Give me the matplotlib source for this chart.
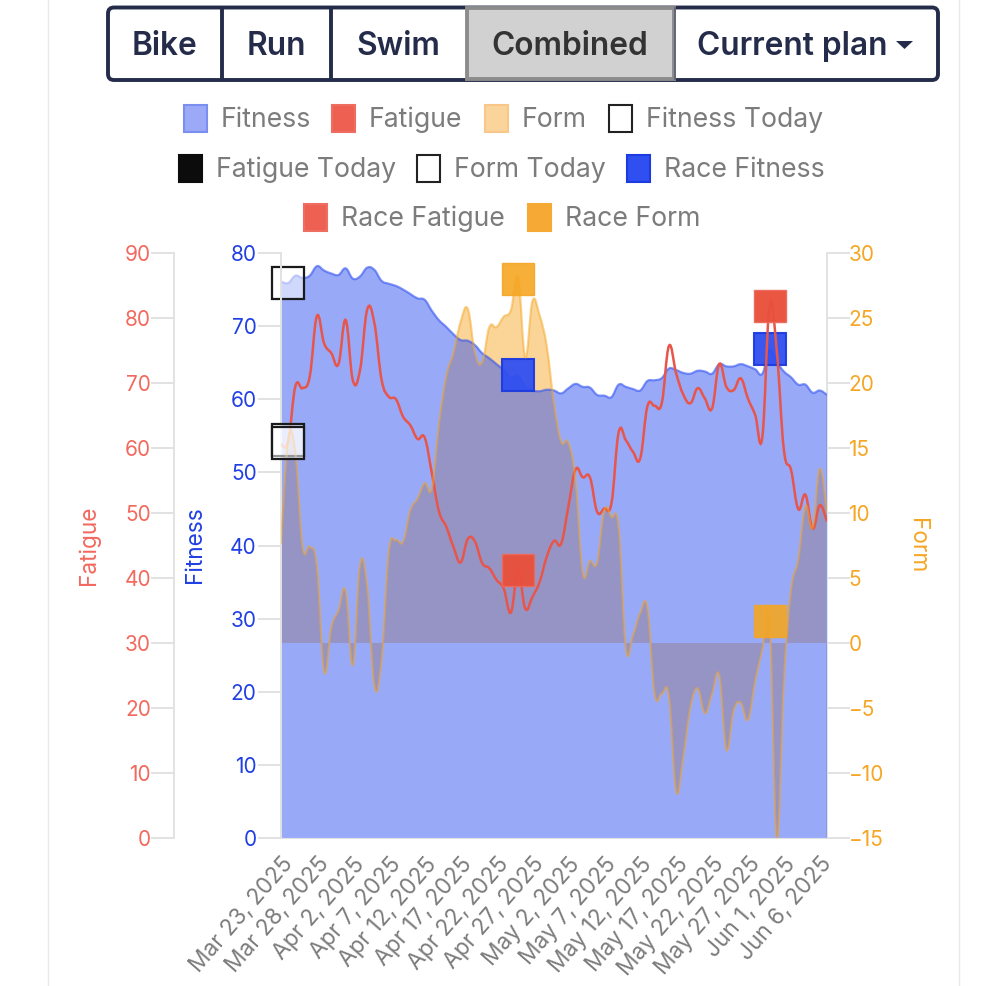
import matplotlib
matplotlib.use("Agg")
import matplotlib.pyplot as plt
from matplotlib.lines import Line2D
from matplotlib.patches import FancyBboxPatch, PathPatch, Rectangle
from matplotlib.path import Path

plt.rcParams["font.family"] = ["Inter", "DejaVu Sans"]

W, H = 1007, 986

date_labels = ["Mar 23, 2025", "Mar 28, 2025", "Apr 2, 2025", "Apr 7, 2025", "Apr 12, 2025",
               "Apr 17, 2025", "Apr 22, 2025", "Apr 27, 2025", "May 2, 2025", "May 7, 2025",
               "May 12, 2025", "May 17, 2025", "May 22, 2025", "May 27, 2025", "Jun 1, 2025",
               "Jun 6, 2025"]

fitness = [76.1, 75.9, 76.9, 76.6, 76.9, 78.2, 77.6, 77.2, 77.0, 77.9, 76.5, 76.8, 78.0, 77.7,
           76.2, 75.8, 75.5, 75.0, 74.4, 73.8, 73.6, 72.1, 70.8, 69.9, 68.9, 68.1, 68.0, 67.4,
           66.3, 65.6, 64.8, 64.0, 62.9, 63.2, 61.7, 61.2, 61.1, 61.3, 61.2, 60.8, 61.5, 62.1,
           61.7, 61.6, 60.6, 60.5, 60.3, 62.0, 61.7, 61.4, 61.2, 62.5, 62.6, 62.9, 64.2, 64.0,
           63.6, 63.5, 63.9, 63.8, 63.5, 64.8, 64.5, 64.5, 64.8, 64.5, 64.1, 63.5, 66.7, 65.1,
           63.8, 63.0, 62.0, 62.0, 60.9, 61.2, 60.6]
fatigue = [60.5, 61.0, 69.5, 69.2, 71.0, 80.3, 76.1, 74.6, 72.9, 79.7, 70.4, 72.0, 81.3, 79.2,
           70.5, 67.9, 67.5, 64.8, 63.5, 61.4, 61.6, 56.1, 50.2, 47.9, 44.8, 42.4, 46.0, 45.6,
           42.3, 41.5, 39.7, 38.4, 34.7, 41.2, 35.3, 37.1, 39.4, 43.3, 45.7, 45.3, 51.0, 56.7,
           55.5, 55.5, 50.2, 50.7, 51.5, 62.4, 61.2, 59.4, 58.4, 66.4, 66.5, 66.9, 75.7, 71.5,
           68.2, 66.9, 69.2, 67.6, 66.1, 72.9, 69.4, 68.9, 70.7, 67.6, 65.1, 61.7, 81.8, 75.1,
           59.7, 56.6, 50.6, 52.8, 47.6, 51.2, 48.7]
form = [7.6, 15.6, 14.6, 7.4, 7.4, 5.9, -2.2, 1.2, 2.5, 4.0, -1.7, 6.0, 4.3, -3.3,
        -1.3, 7.0, 7.9, 7.8, 10.2, 11.1, 12.3, 11.9, 16.9, 20.5, 22.3, 24.7, 25.7, 22.3,
        21.6, 24.3, 24.3, 25.1, 25.6, 28.1, 22.0, 26.3, 25.2, 22.8, 18.4, 15.5, 15.4, 12.5,
        5.4, 6.3, 6.2, 10.2, 9.7, 8.9, -0.4, 0.6, 2.3, 2.7, -3.9, -3.9, -4.1, -11.4,
        -8.7, -4.9, -3.5, -5.4, -3.9, -2.5, -8.2, -5.2, -4.6, -5.9, -2.9, -0.5, 1.9, -15.0,
        -2.9, 4.1, 6.4, 10.5, 8.9, 13.4, 10.0]

today_day = 1
today_fitness, today_fatigue, today_form = 75.9, 61.2, 15.4
race_day = [33, 68]
race_fitness = [63.3, 66.9]
race_fatigue = [41.2, 81.8]
race_form = [28.0, 1.7]

legend_rows = [
    [("Fitness", "fitness"), ("Fatigue", "fatigue"), ("Form", "form"), ("Fitness Today", "today")],
    [("Fatigue Today", "black"), ("Form Today", "today"), ("Race Fitness", "race_fit")],
    [("Race Fatigue", "race_fat"), ("Race Form", "race_form")],
]
buttons = ["Bike", "Run", "Swim", "Combined", "Current plan"]

BLUE = "#2f4ff0"
RED = "#e9503c"
ORANGE = "#f5a623"
GREY_AXIS = "#e2e2e2"
GREY_TEXT = "#7c7c7c"
NAVY = "#252c4a"


def smooth_path(xs, ys, close_to=None, t=0.2):
    # bezier through the points, same idea as chart.js line tension
    verts = [(xs[0], ys[0])]
    codes = [Path.MOVETO]
    n = len(xs)
    for i in range(n - 1):
        x0, y0 = xs[max(i - 1, 0)], ys[max(i - 1, 0)]
        x1, y1 = xs[i], ys[i]
        x2, y2 = xs[i + 1], ys[i + 1]
        x3, y3 = xs[min(i + 2, n - 1)], ys[min(i + 2, n - 1)]
        verts += [(x1 + (x2 - x0) * t, y1 + (y2 - y0) * t),
                  (x2 - (x3 - x1) * t, y2 - (y3 - y1) * t),
                  (x2, y2)]
        codes += [Path.CURVE4] * 3
    if close_to is not None:
        verts += [(xs[-1], close_to), (xs[0], close_to), (xs[0], ys[0])]
        codes += [Path.LINETO, Path.LINETO, Path.CLOSEPOLY]
    return Path(verts, codes)


fig = plt.figure(figsize=(W / 100, H / 100), dpi=100, facecolor="white")
box = [281 / W, 1 - 838 / H, (827 - 281) / W, (838 - 253) / H]

ax = fig.add_axes(box)
ax_form = ax.twinx()
ax_fatigue = ax.twinx()
ax_top = ax.twinx()

days = list(range(len(fitness)))
for a in (ax, ax_form, ax_fatigue, ax_top):
    a.set_xlim(days[0], days[-1])
    a.patch.set_visible(False)
    for s in a.spines.values():
        s.set_visible(False)
ax.set_ylim(0, 80)
ax_fatigue.set_ylim(0, 90)
ax_form.set_ylim(-15, 30)
ax_top.set_ylim(-15, 30)
ax_top.axis("off")

ax_form.set_zorder(1)
ax.set_zorder(2)
ax_fatigue.set_zorder(3)
ax_top.set_zorder(4)

# form fill sits under the fitness fill, that's where the muddy purple comes from
ax_form.add_patch(PathPatch(smooth_path(days, form, close_to=0), fc=ORANGE, ec="none", alpha=0.47))
ax.add_patch(PathPatch(smooth_path(days, fitness, close_to=0), fc="#3354f2", ec="none", alpha=0.5))
ax.add_patch(PathPatch(smooth_path(days, fitness), fc="none", ec="#3354f2", lw=1.6, alpha=0.6))
ax_top.add_patch(PathPatch(smooth_path(days, form), fc="none", ec=ORANGE, lw=1.6, alpha=0.5))
ax_fatigue.add_patch(PathPatch(smooth_path(days, fatigue), fc="none", ec="#e8554a", lw=1.8))

msize = 23.5
ax.plot(race_day, race_fitness, ls="none", marker="s", ms=msize, mfc=BLUE, mec="#1c3be0", mew=1.5,
        alpha=0.95, clip_on=False)
ax_fatigue.plot(race_day, race_fatigue, ls="none", marker="s", ms=msize, mfc=RED, mec="#ee6a5c", mew=1,
                alpha=0.97, clip_on=False)
ax_top.plot(race_day, race_form, ls="none", marker="s", ms=msize, mfc=ORANGE, mec="#f5a623", mew=1,
            alpha=0.9, clip_on=False)
for a, v in ((ax, today_fitness), (ax_fatigue, today_fatigue), (ax_top, today_form)):
    a.plot([today_day], [v], ls="none", marker="s", ms=msize, mfc=(1, 1, 1, 0.55), mec="#1a1a1a",
           mew=1.6, clip_on=False)

# axes
ax.set_yticks(range(0, 81, 10))
ax_fatigue.set_yticks(range(0, 91, 10))
ax_form.set_yticks(range(-15, 31, 5))
ax_form.set_yticklabels([str(v).replace("-", "\u2212") for v in range(-15, 31, 5)])
tlen = 16.5
ax.tick_params(axis="y", length=tlen, width=1.4, color=GREY_AXIS, labelcolor="#2140e4", labelsize=15, pad=1)
ax_fatigue.yaxis.tick_left()
ax_fatigue.tick_params(axis="y", length=tlen, width=1.4, color=GREY_AXIS, labelcolor="#f2695e", labelsize=15, pad=0)
ax_form.tick_params(axis="y", length=tlen, width=1.4, color=GREY_AXIS, labelcolor=ORANGE, labelsize=15, pad=-1)
ax_form.yaxis.tick_right()

ax.spines["left"].set_visible(True)
ax.spines["left"].set_color(GREY_AXIS)
ax.spines["left"].set_linewidth(1.4)
ax.spines["bottom"].set_visible(True)
ax.spines["bottom"].set_color(GREY_AXIS)
ax_fatigue.spines["left"].set_visible(True)
ax_fatigue.spines["left"].set_position(("outward", 77))
ax_fatigue.spines["left"].set_color(GREY_AXIS)
ax_fatigue.spines["left"].set_linewidth(1.4)
ax_form.spines["right"].set_visible(True)
ax_form.spines["right"].set_color(GREY_AXIS)
ax_form.spines["right"].set_linewidth(1.4)
ax.yaxis.get_major_ticks()[0].tick1line.set_color("#b5b5b5")
ax_fatigue.yaxis.get_major_ticks()[0].tick1line.set_color("#b5b5b5")
ax_form.yaxis.get_major_ticks()[3].tick2line.set_color("#b5b5b5")

ax.set_xticks(days[::5][:len(date_labels)])
ax.set_xticklabels(date_labels, rotation=49, ha="right", rotation_mode="anchor",
                   color=GREY_TEXT, fontsize=16.3)
ax.tick_params(axis="x", length=0, pad=11)
for a in (ax_form, ax_fatigue, ax_top):
    a.tick_params(axis="x", bottom=False, labelbottom=False)

# everything else is page furniture, drawn in pixel coords
ui = fig.add_axes([0, 0, 1, 1], zorder=10)
ui.set_xlim(0, W)
ui.set_ylim(H, 0)
ui.axis("off")
ui.patch.set_visible(False)

ui.add_line(Line2D([48, 48], [0, H], color="#e8e8e8", lw=1))
ui.add_line(Line2D([958.5, 958.5], [0, H], color="#e8e8e8", lw=1))

ui.text(89, 545, "Fatigue", color="#f2695e", fontsize=16.3, rotation=90, ha="center", va="center")
ui.text(195, 545, "Fitness", color="#2140e4", fontsize=16.3, rotation=90, ha="center", va="center")
ui.text(917, 546, "Form", color=ORANGE, fontsize=16.3, rotation=270, ha="center", va="center")

# button group
edges = [108, 222, 331, 466, 674, 938]
ui.add_patch(FancyBboxPatch((108, 7.5), 830, 72.5, boxstyle="round,pad=0,rounding_size=6",
                            fc="white", ec=NAVY, lw=2.8))
ui.add_patch(Rectangle((466.5, 8), 207, 71, fc="#d1d1d1", ec="#8c8c8c", lw=2.8))
for x in edges[1:3]:
    ui.add_line(Line2D([x, x], [8, 79], color=NAVY, lw=2.8))
ui.add_line(Line2D([674.5, 674.5], [8, 79], color="#5b6075", lw=1.2))
for i, name in enumerate(buttons):
    cx = (edges[i] + edges[i + 1]) / 2
    col = "#333333" if name == "Combined" else NAVY
    if name == "Current plan":
        cx = 792.5
    ui.text(cx, 46.5, name, color=col, fontsize=22.8, fontweight="semibold", ha="center", va="center")
ui.add_patch(plt.Polygon([[896, 41], [913, 41], [904.5, 49]], fc=NAVY, ec="none"))

# legend
styles = {
    "fitness": dict(fc="#9ba9f7", ec="#7b8ff0"),
    "fatigue": dict(fc="#ee6152", ec="#ee6f62"),
    "form": dict(fc="#fbd49b", ec="#fac78a"),
    "today": dict(fc="white", ec="#222222"),
    "black": dict(fc="#0c0c0c", ec="#0c0c0c"),
    "race_fit": dict(fc="#2f4ff0", ec="#1c3be0"),
    "race_fat": dict(fc="#ee6152", ec="#ee6f62"),
    "race_form": dict(fc="#f7a935", ec="#f7a935"),
}
swatch_x = [[184, 332, 485, 609], [179, 417, 627], [304, 528]]
row_y = [118, 168, 217]
for row, xs, y in zip(legend_rows, swatch_x, row_y):
    for (label, key), x in zip(row, xs):
        ui.add_patch(Rectangle((x, y - 13.5), 23, 27, lw=1.5, **styles[key]))
        ui.text(x + 37, y + 2, label, color=GREY_TEXT, fontsize=19.2, ha="left", va="center")

fig.savefig("out.png", dpi=100)
